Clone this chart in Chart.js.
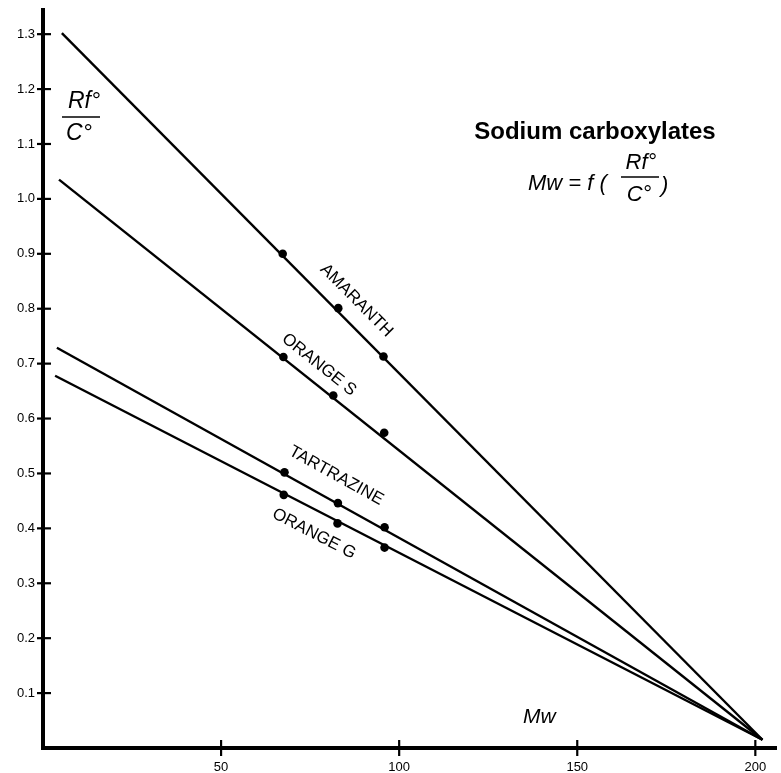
<!DOCTYPE html>
<html>
<head>
<meta charset="utf-8">
<title>Sodium carboxylates</title>
<script src="https://cdn.jsdelivr.net/npm/chart.js@4"></script>
<style>
  html, body { margin: 0; padding: 0; background: #fff; }
  #wrap { width: 781px; height: 773px; }
</style>
</head>
<body>
<div id="wrap"><canvas id="chart" width="781" height="773"></canvas></div>
<script>
// Rf°/C° of four dyes against molecular weight
const dyes = ['AMARANTH', 'ORANGE S', 'TARTRAZINE', 'ORANGE G'];

// measured points (Mw, Rf°/C°)
const mwAmaranth = [67.3, 82.9, 95.6];
const rfAmaranth = [0.900, 0.801, 0.713];
const mwOrangeS = [67.5, 81.5, 95.8];
const rfOrangeS = [0.712, 0.642, 0.574];
const mwTartrazine = [67.8, 82.8, 95.9];
const rfTartrazine = [0.502, 0.446, 0.402];
const mwOrangeG = [67.6, 82.7, 95.9];
const rfOrangeG = [0.461, 0.409, 0.365];

// fitted lines: start point for each dye, all meet at one point
const lineStartMw = [5.3, 4.5, 3.9, 3.4];
const lineStartRf = [1.302, 1.035, 0.729, 0.678];
const meetMw = 202;
const meetRf = 0.015;

const xTicks = [50, 100, 150, 200];
const yTicks = [0.1, 0.2, 0.3, 0.4, 0.5, 0.6, 0.7, 0.8, 0.9, 1.0, 1.1, 1.2, 1.3];

const mwSets = [mwAmaranth, mwOrangeS, mwTartrazine, mwOrangeG];
const rfSets = [rfAmaranth, rfOrangeS, rfTartrazine, rfOrangeG];

// where the dye names sit (data units), rotated along their line
const nameSpots = [
  { x: 88.0, y: 0.815 },
  { x: 77.5, y: 0.698 },
  { x: 82.3, y: 0.496 },
  { x: 76.1, y: 0.390 }
];

const FONT = '"Liberation Sans", Arial, Helvetica, sans-serif';

const datasets = [];
dyes.forEach((name, i) => {
  datasets.push({
    label: name + ' fit',
    data: [{ x: lineStartMw[i], y: lineStartRf[i] }, { x: meetMw, y: meetRf }],
    showLine: true,
    borderColor: '#000',
    borderWidth: 2.4,
    pointRadius: 0,
    order: 2
  });
  datasets.push({
    label: name,
    data: mwSets[i].map((m, k) => ({ x: m, y: rfSets[i][k] })),
    showLine: false,
    backgroundColor: '#000',
    borderColor: '#000',
    pointRadius: 4.3,
    pointBorderWidth: 0,
    order: 1
  });
});

// tick crosses through both axes
const crossTicks = {
  id: 'crossTicks',
  afterDraw(chart) {
    const { ctx, chartArea: a } = chart;
    const xs = chart.scales.x, ys = chart.scales.y;
    ctx.save();
    ctx.strokeStyle = '#000';
    ctx.lineWidth = 2.2;
    yTicks.forEach(v => {
      const py = ys.getPixelForValue(v);
      ctx.beginPath();
      ctx.moveTo(a.left - 6, py);
      ctx.lineTo(a.left + 8, py);
      ctx.stroke();
    });
    xTicks.forEach(v => {
      const px = xs.getPixelForValue(v);
      ctx.beginPath();
      ctx.moveTo(px, a.bottom - 8);
      ctx.lineTo(px, a.bottom + 8);
      ctx.stroke();
    });
    ctx.restore();
  }
};

// dye names, title, formula and axis titles
const annotations = {
  id: 'annotations',
  afterDraw(chart) {
    const { ctx } = chart;
    const xs = chart.scales.x, ys = chart.scales.y;
    ctx.save();
    ctx.fillStyle = '#000';
    ctx.strokeStyle = '#000';

    ctx.font = '17px ' + FONT;
    ctx.textAlign = 'center';
    ctx.textBaseline = 'middle';
    dyes.forEach((name, i) => {
      const x0 = xs.getPixelForValue(lineStartMw[i]);
      const y0 = ys.getPixelForValue(lineStartRf[i]);
      const x1 = xs.getPixelForValue(meetMw);
      const y1 = ys.getPixelForValue(meetRf);
      const ang = Math.atan2(y1 - y0, x1 - x0);
      const p = nameSpots[i];
      ctx.save();
      ctx.translate(xs.getPixelForValue(p.x), ys.getPixelForValue(p.y));
      ctx.rotate(ang);
      ctx.fillText(name, 0, 0);
      ctx.restore();
    });

    ctx.textBaseline = 'alphabetic';
    ctx.font = 'bold 24px ' + FONT;
    ctx.fillText('Sodium carboxylates', 595, 139);

    // Mw = f (Rf°/C°)
    ctx.font = 'italic 22px ' + FONT;
    ctx.textAlign = 'left';
    ctx.fillText('Mw = f (', 528, 190);
    ctx.textAlign = 'center';
    ctx.fillText('Rf°', 641, 169);
    ctx.fillText('C°', 639, 201);
    ctx.lineWidth = 1.5;
    ctx.beginPath();
    ctx.moveTo(621, 177);
    ctx.lineTo(659, 177);
    ctx.stroke();
    ctx.textAlign = 'left';
    ctx.fillText(')', 661, 192);

    // y axis title
    ctx.font = 'italic 23px ' + FONT;
    ctx.textAlign = 'center';
    ctx.fillText('Rf°', 84, 108);
    ctx.fillText('C°', 79, 140);
    ctx.beginPath();
    ctx.moveTo(62, 117);
    ctx.lineTo(100, 117);
    ctx.stroke();

    // x axis title
    ctx.font = 'italic 21px ' + FONT;
    ctx.textAlign = 'left';
    ctx.fillText('Mw', 523, 723);
    ctx.restore();
  }
};

new Chart(document.getElementById('chart'), {
  type: 'scatter',
  data: { datasets },
  options: {
    responsive: false,
    animation: false,
    layout: { padding: { top: 10, right: 0, left: 0, bottom: 0 } },
    plugins: { legend: { display: false }, tooltip: { enabled: false } },
    scales: {
      x: {
        type: 'linear',
        min: 0,
        max: 206,
        afterBuildTicks(scale) { scale.ticks = xTicks.map(v => ({ value: v })); },
        afterFit(scale) {
          scale.height = 25;
          scale.paddingLeft = 0;
          scale.paddingRight = 0;
        },
        grid: { display: false, drawTicks: false },
        border: { display: true, color: '#000', width: 4 },
        ticks: { color: '#000', padding: 12, font: { family: FONT, size: 13 }, maxRotation: 0 }
      },
      y: {
        type: 'linear',
        min: 0,
        max: 1.344,
        afterBuildTicks(scale) { scale.ticks = yTicks.map(v => ({ value: v })); },
        afterFit(scale) {
          scale.width = 43;
          scale.paddingTop = 0;
          scale.paddingBottom = 0;
        },
        grid: { display: false, drawTicks: false },
        border: { display: true, color: '#000', width: 4 },
        ticks: {
          color: '#000',
          padding: 8,
          font: { family: FONT, size: 13 },
          callback: v => v.toFixed(1)
        }
      }
    }
  },
  plugins: [crossTicks, annotations]
});
</script>
</body>
</html>
